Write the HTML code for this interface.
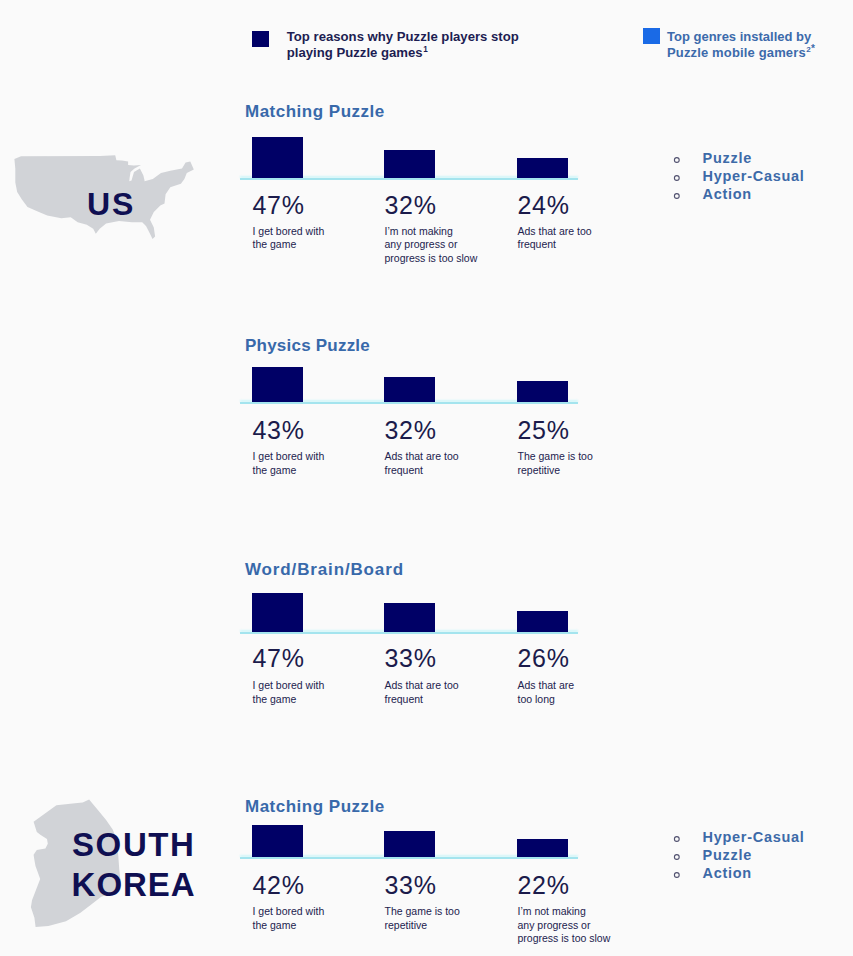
<!DOCTYPE html>
<html><head><meta charset="utf-8"><style>
html,body{margin:0;padding:0;}
body{width:853px;height:956px;background:#fafafa;position:relative;overflow:hidden;font-family:"Liberation Sans",sans-serif;}
.t{position:absolute;white-space:nowrap;}
.r{position:absolute;}
.map{position:absolute;left:0;top:0;}
sup{font-size:0.62em;vertical-align:0;position:relative;top:-0.62em;margin-left:0.5px;letter-spacing:0.3px;}
</style></head><body>
<svg class="map" width="853" height="956" viewBox="0 0 853 956"><polygon points="14.4,159.1 21.0,156.3 100.0,156.1 115.2,155.3 116.4,160.2 122.0,160.6 128.1,161.4 128.1,165.0 134.0,165.5 141.0,165.0 134.5,168.6 130.5,172.0 129.6,178.0 129.3,181.3 131.5,180.5 134.0,172.0 139.9,168.4 143.4,175.5 144.5,180.2 144.5,181.3 152.8,179.0 161.0,173.1 170.3,170.8 182.0,168.4 185.6,162.6 190.3,161.4 193.8,169.6 186.8,173.1 184.4,179.0 180.9,183.7 170.3,187.2 165.6,194.2 164.5,203.6 160.3,205.5 153.8,211.9 150.0,219.7 153.8,227.4 155.1,236.4 152.5,239.0 150.0,233.8 146.0,226.1 142.2,222.2 131.9,222.2 119.0,221.0 106.1,223.5 99.7,228.7 95.8,233.8 93.2,228.7 86.8,224.8 77.7,222.2 70.7,217.2 61.3,218.2 47.2,215.4 36.0,210.7 27.5,206.9 21.9,199.4 17.2,191.9 15.3,182.5 15.3,168.5" fill="#d1d3d7"/><polygon points="89.1,799.4 82.7,802.6 75.0,803.2 56.4,805.2 33.6,821.7 36.8,831.9 40.7,835.0 47.0,839.0 47.8,843.7 45.4,848.4 36.8,850.0 33.6,854.7 34.4,860.0 35.5,866.0 40.2,879.0 32.0,900.2 30.9,907.2 34.4,917.8 35.6,927.1 48.4,926.0 66.0,921.3 80.1,913.1 90.6,904.9 101.2,896.7 114.1,893.1 119.5,888.0 120.4,880.0 119.3,870.0 118.3,855.9 116.4,839.0 112.7,829.5 106.1,820.1 98.5,810.7" fill="#d1d3d7"/></svg>
<div class="r" style="left:252px;top:31px;width:17px;height:16px;background:#000066;"></div><div class="t" style="left:286.8px;top:29.39px;font-size:13.15px;line-height:16.1px;color:#1d1d52;font-weight:700;letter-spacing:0px;">Top reasons why Puzzle players stop<br>playing Puzzle games<sup>1</sup></div><div class="r" style="left:643px;top:28px;width:17px;height:15.5px;background:#1a6ae6;"></div><div class="t" style="left:667px;top:29.35px;font-size:13px;line-height:15.5px;color:#3c6aab;font-weight:700;letter-spacing:0px;">Top genres installed by<br><span style="letter-spacing:0.15px">Puzzle mobile gamers</span><sup>2<span style="font-size:1.25em">*</span></sup></div><div class="t" style="left:245px;top:101.51px;font-size:17px;line-height:20.4px;color:#3869aa;font-weight:700;letter-spacing:0.5px;">Matching Puzzle</div><div class="r" style="left:240px;top:178px;width:338px;height:2px;background:#a4e4ee;box-shadow:0 -2px 2px rgba(190,245,250,0.7);"></div><div class="r" style="left:252px;top:136.7px;width:51px;height:41.3px;background:#000066;"></div><div class="r" style="left:384px;top:150px;width:51px;height:28px;background:#000066;"></div><div class="r" style="left:517px;top:158px;width:51px;height:20px;background:#000066;"></div><div class="t" style="left:252.5px;top:189.84px;font-size:25px;line-height:30px;color:#1b1b4b;font-weight:400;letter-spacing:0.7px;">47%</div><div class="t" style="left:252.5px;top:224.86px;font-size:10.5px;line-height:13.4px;color:#22224e;font-weight:400;letter-spacing:0px;">I get bored with<br>the game</div><div class="t" style="left:384.5px;top:189.84px;font-size:25px;line-height:30px;color:#1b1b4b;font-weight:400;letter-spacing:0.7px;">32%</div><div class="t" style="left:384.5px;top:224.86px;font-size:10.5px;line-height:13.4px;color:#22224e;font-weight:400;letter-spacing:0px;">I’m not making<br>any progress or<br>progress is too slow</div><div class="t" style="left:517.5px;top:189.84px;font-size:25px;line-height:30px;color:#1b1b4b;font-weight:400;letter-spacing:0.7px;">24%</div><div class="t" style="left:517.5px;top:224.86px;font-size:10.5px;line-height:13.4px;color:#22224e;font-weight:400;letter-spacing:0px;">Ads that are too<br>frequent</div><div class="t" style="left:245px;top:335.51px;font-size:17px;line-height:20.4px;color:#3869aa;font-weight:700;letter-spacing:0.22px;">Physics Puzzle</div><div class="r" style="left:240px;top:402.2px;width:338px;height:2px;background:#a4e4ee;box-shadow:0 -2px 2px rgba(190,245,250,0.7);"></div><div class="r" style="left:252px;top:367.2px;width:51px;height:35.0px;background:#000066;"></div><div class="r" style="left:384px;top:377.1px;width:51px;height:25.1px;background:#000066;"></div><div class="r" style="left:517px;top:381.2px;width:51px;height:21.0px;background:#000066;"></div><div class="t" style="left:252.5px;top:414.64px;font-size:25px;line-height:30px;color:#1b1b4b;font-weight:400;letter-spacing:0.7px;">43%</div><div class="t" style="left:252.5px;top:450.26px;font-size:10.5px;line-height:13.4px;color:#22224e;font-weight:400;letter-spacing:0px;">I get bored with<br>the game</div><div class="t" style="left:384.5px;top:414.64px;font-size:25px;line-height:30px;color:#1b1b4b;font-weight:400;letter-spacing:0.7px;">32%</div><div class="t" style="left:384.5px;top:450.26px;font-size:10.5px;line-height:13.4px;color:#22224e;font-weight:400;letter-spacing:0px;">Ads that are too<br>frequent</div><div class="t" style="left:517.5px;top:414.64px;font-size:25px;line-height:30px;color:#1b1b4b;font-weight:400;letter-spacing:0.7px;">25%</div><div class="t" style="left:517.5px;top:450.26px;font-size:10.5px;line-height:13.4px;color:#22224e;font-weight:400;letter-spacing:0px;">The game is too<br>repetitive</div><div class="t" style="left:245px;top:559.51px;font-size:17px;line-height:20.4px;color:#3869aa;font-weight:700;letter-spacing:0.86px;">Word/Brain/Board</div><div class="r" style="left:240px;top:631.7px;width:338px;height:2px;background:#a4e4ee;box-shadow:0 -2px 2px rgba(190,245,250,0.7);"></div><div class="r" style="left:252px;top:593.1px;width:51px;height:38.6px;background:#000066;"></div><div class="r" style="left:384px;top:602.9px;width:51px;height:28.8px;background:#000066;"></div><div class="r" style="left:517px;top:611px;width:51px;height:20.7px;background:#000066;"></div><div class="t" style="left:252.5px;top:643.34px;font-size:25px;line-height:30px;color:#1b1b4b;font-weight:400;letter-spacing:0.7px;">47%</div><div class="t" style="left:252.5px;top:679.26px;font-size:10.5px;line-height:13.4px;color:#22224e;font-weight:400;letter-spacing:0px;">I get bored with<br>the game</div><div class="t" style="left:384.5px;top:643.34px;font-size:25px;line-height:30px;color:#1b1b4b;font-weight:400;letter-spacing:0.7px;">33%</div><div class="t" style="left:384.5px;top:679.26px;font-size:10.5px;line-height:13.4px;color:#22224e;font-weight:400;letter-spacing:0px;">Ads that are too<br>frequent</div><div class="t" style="left:517.5px;top:643.34px;font-size:25px;line-height:30px;color:#1b1b4b;font-weight:400;letter-spacing:0.7px;">26%</div><div class="t" style="left:517.5px;top:679.26px;font-size:10.5px;line-height:13.4px;color:#22224e;font-weight:400;letter-spacing:0px;">Ads that are<br>too long</div><div class="t" style="left:245px;top:796.61px;font-size:17px;line-height:20.4px;color:#3869aa;font-weight:700;letter-spacing:0.5px;">Matching Puzzle</div><div class="r" style="left:240px;top:856.9px;width:338px;height:2px;background:#a4e4ee;box-shadow:0 -2px 2px rgba(190,245,250,0.7);"></div><div class="r" style="left:252px;top:825.1px;width:51px;height:31.8px;background:#000066;"></div><div class="r" style="left:384px;top:831.2px;width:51px;height:25.7px;background:#000066;"></div><div class="r" style="left:517px;top:839.3px;width:51px;height:17.6px;background:#000066;"></div><div class="t" style="left:252.5px;top:870.04px;font-size:25px;line-height:30px;color:#1b1b4b;font-weight:400;letter-spacing:0.7px;">42%</div><div class="t" style="left:252.5px;top:905.46px;font-size:10.5px;line-height:13.4px;color:#22224e;font-weight:400;letter-spacing:0px;">I get bored with<br>the game</div><div class="t" style="left:384.5px;top:870.04px;font-size:25px;line-height:30px;color:#1b1b4b;font-weight:400;letter-spacing:0.7px;">33%</div><div class="t" style="left:384.5px;top:905.46px;font-size:10.5px;line-height:13.4px;color:#22224e;font-weight:400;letter-spacing:0px;">The game is too<br>repetitive</div><div class="t" style="left:517.5px;top:870.04px;font-size:25px;line-height:30px;color:#1b1b4b;font-weight:400;letter-spacing:0.7px;">22%</div><div class="t" style="left:517.5px;top:905.46px;font-size:10.5px;line-height:13.4px;color:#22224e;font-weight:400;letter-spacing:0px;">I’m not making<br>any progress or<br>progress is too slow</div><div class="t" style="left:702.5px;top:149.98px;font-size:14.5px;line-height:17.4px;color:#3d6aa8;font-weight:700;letter-spacing:0.72px;">Puzzle</div><svg class="r" style="left:670px;top:153.00px" width="14" height="14" viewBox="0 0 14 14"><circle cx="6.8" cy="7" r="2.4" fill="none" stroke="#50506e" stroke-width="1.1"/></svg><div class="t" style="left:702.5px;top:167.88px;font-size:14.5px;line-height:17.4px;color:#3d6aa8;font-weight:700;letter-spacing:0.72px;">Hyper-Casual</div><svg class="r" style="left:670px;top:170.90px" width="14" height="14" viewBox="0 0 14 14"><circle cx="6.8" cy="7" r="2.4" fill="none" stroke="#50506e" stroke-width="1.1"/></svg><div class="t" style="left:702.5px;top:185.78px;font-size:14.5px;line-height:17.4px;color:#3d6aa8;font-weight:700;letter-spacing:0.72px;">Action</div><svg class="r" style="left:670px;top:188.80px" width="14" height="14" viewBox="0 0 14 14"><circle cx="6.8" cy="7" r="2.4" fill="none" stroke="#50506e" stroke-width="1.1"/></svg><div class="t" style="left:702.5px;top:829.08px;font-size:14.5px;line-height:17.4px;color:#3d6aa8;font-weight:700;letter-spacing:0.72px;">Hyper-Casual</div><svg class="r" style="left:670px;top:832.10px" width="14" height="14" viewBox="0 0 14 14"><circle cx="6.8" cy="7" r="2.4" fill="none" stroke="#50506e" stroke-width="1.1"/></svg><div class="t" style="left:702.5px;top:846.98px;font-size:14.5px;line-height:17.4px;color:#3d6aa8;font-weight:700;letter-spacing:0.72px;">Puzzle</div><svg class="r" style="left:670px;top:850.00px" width="14" height="14" viewBox="0 0 14 14"><circle cx="6.8" cy="7" r="2.4" fill="none" stroke="#50506e" stroke-width="1.1"/></svg><div class="t" style="left:702.5px;top:864.88px;font-size:14.5px;line-height:17.4px;color:#3d6aa8;font-weight:700;letter-spacing:0.72px;">Action</div><svg class="r" style="left:670px;top:867.90px" width="14" height="14" viewBox="0 0 14 14"><circle cx="6.8" cy="7" r="2.4" fill="none" stroke="#50506e" stroke-width="1.1"/></svg><div class="t" style="left:87px;top:184.51px;font-size:32px;line-height:38.4px;color:#0f0f52;font-weight:700;letter-spacing:1.8px;">US</div><div class="t" style="left:72px;top:824.77px;font-size:33px;line-height:39.6px;color:#0f0f52;font-weight:700;letter-spacing:1.6px;">SOUTH</div><div class="t" style="left:71.6px;top:864.77px;font-size:33px;line-height:39.6px;color:#0f0f52;font-weight:700;letter-spacing:0.95px;">KOREA</div>
</body></html>
